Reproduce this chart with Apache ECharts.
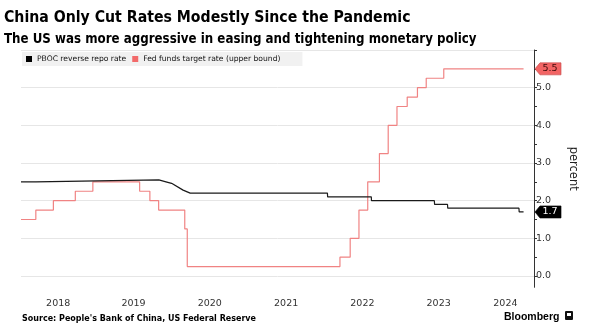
<!DOCTYPE html>
<html>
<head>
<meta charset="utf-8">
<script src="https://cdn.jsdelivr.net/npm/echarts@6/dist/echarts.min.js"></script>
<style>
  html, body { margin: 0; padding: 0; background: #fff; }
  #chart { width: 598px; height: 330px; }
</style>
</head>
<body>
<div id="chart"></div>
<script>
// PBOC 7-day reverse repo rate, percent
const pbocDates = ['2018-01-10', '2018-03-21', '2018-03-23', '2019-11-01', '2019-12-05', '2020-01-01',
  '2020-02-25', '2020-03-30', '2022-01-16', '2022-01-17', '2022-08-14', '2022-08-15', '2023-06-12',
  '2023-06-13', '2023-08-14', '2023-08-15', '2024-07-21', '2024-07-22', '2024-08-12'];
const pbocVals = [2.5, 2.5, 2.55, 2.55, 2.5, 2.46, 2.28, 2.2, 2.2, 2.1, 2.1, 2.0, 2.0, 1.9, 1.9, 1.8, 1.8, 1.7, 1.7];

// Fed funds target rate (upper bound), percent; each value holds from its date on
const fedDates = ['2018-01-10', '2018-03-22', '2018-06-14', '2018-09-27', '2018-12-20', '2019-08-01',
  '2019-09-19', '2019-10-31', '2020-03-04', '2020-03-16', '2022-03-17', '2022-05-05', '2022-06-16',
  '2022-07-28', '2022-09-22', '2022-11-03', '2022-12-15', '2023-02-02', '2023-03-23', '2023-05-04',
  '2023-07-27', '2024-08-12'];
const fedVals = [1.5, 1.75, 2.0, 2.25, 2.5, 2.25, 2.0, 1.75, 1.25, 0.25, 0.5, 1.0, 1.75, 2.5, 3.25, 4.0,
  4.5, 4.75, 5.0, 5.25, 5.5, 5.5];

const yearLabels = ['2018', '2019', '2020', '2021', '2022', '2023', '2024'];
const yLabelValues = [0, 1, 2, 3, 4, 5];
const yTickValues = [0, 0.5, 1, 1.5, 2, 2.5, 3, 3.5, 4, 4.5, 5, 5.5, 6];
const yGridValues = [0, 1, 2, 3, 4, 5, 6];

const FONT = 'DejaVu Sans';
const HEAD_FONT = 'DejaVu Sans Condensed, DejaVu Sans';
const ts = d => Date.parse(d + 'T00:00:00Z');
const xMin = ts('2018-01-10');
const xMax = ts('2024-10-01');

// year labels sit in the middle of the visible part of each year
const yearCenters = yearLabels.map(y => {
  const a = Math.max(Date.UTC(+y, 0, 1), xMin);
  const b = Math.min(Date.UTC(+y + 1, 0, 1), xMax);
  return (a + b) / 2;
});

const pbocData = pbocDates.map((d, i) => [ts(d), pbocVals[i]]);
const fedData = fedDates.map((d, i) => [ts(d), fedVals[i]]);

const tagPath = 'path://M0,6 L5,0 L26,0 L26,12 L5,12 Z';
function endTag(value, fill, textColor, border) {
  return {
    symbol: tagPath,
    symbolSize: [26, 12],
    symbolOffset: [14, 0],
    silent: true,
    itemStyle: { color: fill, borderColor: border, borderWidth: 0.6 },
    label: {
      show: true, position: 'inside', offset: [2, 0],
      color: textColor, fontFamily: FONT, fontSize: 9.5,
      formatter: () => value.toFixed(1)
    },
    data: [{ coord: [xMax, value] }]
  };
}

const chart = echarts.init(document.getElementById('chart'), null, { renderer: 'canvas' });
chart.setOption({
  animation: false,
  backgroundColor: '#fff',
  title: [
    {
      text: 'China Only Cut Rates Modestly Since the Pandemic',
      left: -1, top: 5,
      textStyle: { fontFamily: HEAD_FONT, fontWeight: 'bold', fontSize: 15.7, color: '#000' }
    },
    {
      text: 'The US was more aggressive in easing and tightening monetary policy',
      left: -1, top: 28,
      textStyle: { fontFamily: HEAD_FONT, fontWeight: 'bold', fontSize: 13.2, color: '#000' }
    },
    {
      text: "Source: People's Bank of China, US Federal Reserve",
      left: 17, top: 310,
      textStyle: { fontFamily: FONT, fontWeight: 'bold', fontSize: 8, color: '#000' }
    },
    {
      text: 'Bloomberg',
      left: 499, top: 307,
      textStyle: { fontFamily: 'Liberation Sans', fontWeight: 'bold', fontSize: 10.5, color: '#000' }
    }
  ],
  graphic: [
    { type: 'rect', left: 565, top: 311, shape: { width: 8, height: 9, r: 1 }, style: { fill: '#111' } },
    { type: 'rect', left: 567, top: 313, shape: { width: 4, height: 3 }, style: { fill: '#fff' } }
  ],
  legend: {
    left: 22, top: 52,
    padding: [3, 22, 3, 4],
    backgroundColor: '#f1f1f1',
    itemWidth: 6, itemHeight: 6, itemGap: 6,
    icon: 'rect',
    textStyle: { fontFamily: FONT, fontSize: 7.6, color: '#111' },
    data: [
      { name: 'PBOC reverse repo rate', itemStyle: { color: '#000' } },
      { name: 'Fed funds target rate (upper bound)', itemStyle: { color: '#f26a6a' } }
    ]
  },
  grid: { left: 21, right: 64, top: 50, bottom: 42.7 },
  xAxis: {
    type: 'value', min: xMin, max: xMax,
    axisLine: { show: false }, axisTick: { show: false }, splitLine: { show: false },
    axisLabel: {
      customValues: yearCenters,
      formatter: v => String(new Date(v).getUTCFullYear()),
      fontFamily: FONT, fontSize: 9.5, color: '#333', margin: 11
    }
  },
  yAxis: [
    {
      type: 'value', position: 'right', min: -0.3, max: 6,
      name: 'percent', nameLocation: 'middle', nameRotate: -90, nameGap: 33,
      nameTextStyle: { fontFamily: FONT, fontSize: 11.5, color: '#222' },
      axisLine: { show: true, lineStyle: { color: '#333', width: 1 } },
      axisTick: { show: true, length: 3, customValues: yTickValues, lineStyle: { color: '#333' } },
      axisLabel: {
        customValues: yLabelValues, margin: 2,
        formatter: v => v.toFixed(1),
        fontFamily: FONT, fontSize: 9.5, color: '#333'
      },
      splitLine: { show: false }
    },
    {
      type: 'value', position: 'right', min: -0.3, max: 6,
      axisLine: { show: false },
      axisTick: { show: false, customValues: yGridValues },
      axisLabel: { show: false },
      splitLine: { show: true, lineStyle: { color: '#e6e6e6', width: 1 } }
    }
  ],
  series: [
    {
      name: 'Fed funds target rate (upper bound)',
      type: 'line', step: 'end', showSymbol: false, yAxisIndex: 0,
      data: fedData,
      lineStyle: { color: '#f08383', width: 1.2 },
      itemStyle: { color: '#f26a6a' },
      markPoint: endTag(fedVals[fedVals.length - 1], '#f26464', '#3b0b0b', '#c84a4a'),
      z: 2
    },
    {
      name: 'PBOC reverse repo rate',
      type: 'line', showSymbol: false, yAxisIndex: 0,
      data: pbocData,
      lineStyle: { color: '#1a1a1a', width: 1.2 },
      itemStyle: { color: '#000' },
      markPoint: endTag(pbocVals[pbocVals.length - 1], '#000', '#fff', '#000'),
      z: 3
    }
  ]
});
</script>
</body>
</html>
